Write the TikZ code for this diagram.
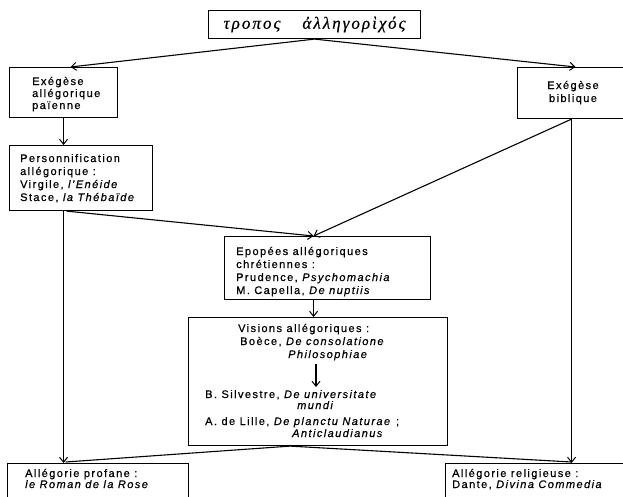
\documentclass[tikz,border=0pt]{standalone}
\usepackage{fontspec}
\setmainfont{Liberation Sans}[LetterSpace=13,FakeBold=0.6]
\newfontfamily\greekfont{Liberation Serif}[LetterSpace=12,FakeBold=0.5]
\usetikzlibrary{arrows.meta,calc}
\begin{document}
\begin{tikzpicture}[x=1pt,y=-1pt,
  font=\fontsize{11}{13}\selectfont,
  box/.style={draw,line width=1.1pt,inner sep=0pt,anchor=north west},
  txt/.style={inner sep=0pt,anchor=base west},
  ctxt/.style={inner sep=0pt,anchor=base},
  arr/.style={line width=1.1pt,-{Straight Barb[length=5pt,width=8pt,line width=1pt]}},
  ln/.style={line width=1.1pt}]
\useasboundingbox (0,0) rectangle (623,496);
\clip (0,0) rectangle (623,496);
% boxes
\node[box,minimum width=212pt,minimum height=28pt] (top) at (208,10) {};
\node[box,minimum width=108pt,minimum height=50pt] (lpag) at (9,67) {};
\node[box,minimum width=112pt,minimum height=51pt] (bib) at (517,67) {};
\node[box,minimum width=143pt,minimum height=65pt] (pers) at (9,145) {};
\node[box,minimum width=206pt,minimum height=63pt] (epo) at (224,236) {};
\node[box,minimum width=259pt,minimum height=128pt] (vis) at (188,317) {};
\node[box,minimum width=181pt,minimum height=60pt] (prof) at (7,463) {};
\node[box,minimum width=190pt,minimum height=60pt] (rel) at (445,463) {};
% texts
\node[inner sep=0pt] (gk) at (top.center) {\greekfont\itshape\fontsize{17}{17}\selectfont τροπος\hspace{22pt}ἀλληγορὶχός};
\node[txt] (lp1) at (32,85) {Exégèse};
\node[txt] (lp2) at (32,97) {allégorique};
\node[txt] (lp3) at (32,109) {païenne};
\node[ctxt] (bb1) at (573,89) {Exégèse};
\node[ctxt] (bb2) at (573,102) {biblique};
\node[txt] (pe1) at (20,162) {Personnification};
\node[txt] (pe2) at (20,175) {allégorique :};
\node[txt] (pe3) at (20,188) {Virgile, \textit{l'Enéide}};
\node[txt] (pe4) at (20,201) {Stace, \textit{la Thébaïde}};
\node[txt] (ep1) at (236,255) {Epopées allégoriques};
\node[txt] (ep2) at (236,268) {chrétiennes :};
\node[txt] (ep3) at (236,281) {Prudence, \textit{Psychomachia}};
\node[txt] (ep4) at (236,294) {M. Capella, \textit{De nuptiis}};
\node[txt] (vi1) at (238,332) {Visions allégoriques :};
\node[txt] (vi2) at (240,345) {Boèce, \textit{De consolatione}};
\node[txt] (vi3) at (288,358) {\textit{Philosophiae}};
\node[txt] (vi4) at (205,398) {B. Silvestre, \textit{De universitate}};
\node[txt] (vi5) at (297,409) {\textit{mundi}};
\node[txt] (vi6) at (205,425) {A. de Lille, \textit{De planctu Naturae} ;};
\node[txt] (vi7) at (292,437) {\textit{Anticlaudianus}};
\node[txt] (pr1) at (25,477) {Allégorie profane :};
\node[txt] (pr2) at (25,488) {\textit{le Roman de la Rose}};
\node[txt] (re1) at (452,477) {Allégorie religieuse :};
\node[txt] (re2) at (452,488) {Dante, \textit{Divina Commedia}};
% coordinates
\coordinate (lIn) at ($(lpag.north)+(7,0)$);
\coordinate (bIn) at ($(bib.north)+(2,0)$);
\coordinate (eIn) at ($(epo.north)+(-14,0)$);
\coordinate (pOut) at ($(pers.south -| lpag.south)+(3,0)$);
\coordinate (vOut) at ($(vis.south)+(-28,0)$);
\coordinate (vA) at (316,364);
\coordinate (vB) at (316,387);
% connectors
\draw[arr] (top.south) -- (lIn);
\draw[arr] (top.south) -- (bIn);
\draw[arr] (lpag.south) -- (lpag.south |- pers.north);
\draw[arr] (pers.south -| lpag.south) -- (lpag.south |- prof.north);
\draw[arr] (pOut) -- (eIn);
\draw[arr] ($(bib.south)+(-2,0)$) -- (eIn);
\draw[arr] ($(bib.south)+(-2,0)$) -- ($(bib.south |- rel.north)+(-2,0)$);
\draw[arr] (eIn |- epo.south) -- (eIn |- vis.north);
\draw[arr] (vA) -- (vB);
\draw[ln] (vOut) -- ($(lpag.south |- prof.north)+(2,-1)$);
\draw[ln] (vOut) -- ($(bib.south |- rel.north)+(-2,-1)$);
\end{tikzpicture}
\end{document}
